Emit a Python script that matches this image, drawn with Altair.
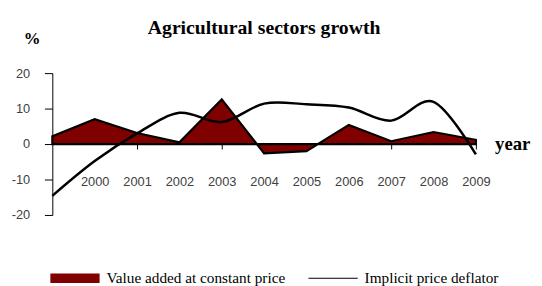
import altair as alt
import pandas as pd

years = [1999, 2000, 2001, 2002, 2003, 2004, 2005, 2006, 2007, 2008, 2009]
value_added = [2.2, 7.0, 3.1, 0.5, 12.6, -2.6, -2.0, 5.4, 0.8, 3.4, 1.2]
deflator = [-14.6, -4.8, 3.0, 8.8, 6.2, 11.4, 11.2, 10.3, 6.6, 11.9, -2.9]
y_ticks = [-20, -10, 0, 10, 20]
series = ["Value added at constant price", "Implicit price deflator"]

df = pd.DataFrame({"year": years, "va": value_added, "defl": deflator})
leg = pd.DataFrame({"series": series})

serif = "Liberation Serif"
sans = "Liberation Sans"
label_gray = "#404040"

x_scale = alt.Scale(domain=[1999, 2009], nice=False, zero=False)
y_scale = alt.Scale(domain=[-20, 20], nice=False)

x_axis = alt.Axis(
    values=years,
    format="d",
    labelExpr="datum.value < 2000 ? '' : datum.label",
    labelOverlap=False,
    labelFlush=False,
    domain=False,
    grid=False,
    offset=-72,
    tickSize=5,
    tickColor="black",
    tickWidth=1,
    tickOpacity=alt.expr("datum.value % 2 == 1 && datum.value > 1999 ? 1 : 0"),
    labelPadding=27,
    labelFont=sans,
    labelFontSize=13,
    labelColor=label_gray,
    title="year",
    titleFont=serif,
    titleFontSize=19,
    titleFontWeight="bold",
    titleColor="black",
    titleAngle=0,
    titleAlign="left",
    titleBaseline="middle",
    titleX=449,
    titleY=0,
)

y_axis = alt.Axis(
    values=y_ticks,
    labelExpr="'' + datum.value",
    labelOverlap=False,
    labelFlush=False,
    grid=False,
    domainColor="black",
    domainWidth=1,
    tickColor="black",
    tickSize=8,
    labelFont=sans,
    labelFontSize=13,
    labelColor=label_gray,
    labelPadding=15,
    title="%",
    titleFont=serif,
    titleFontSize=17,
    titleFontWeight="bold",
    titleColor="black",
    titleAngle=0,
    titleAlign="center",
    titleBaseline="middle",
    titleX=-21,
    titleY=-35,
)

area = alt.Chart(df).mark_area(
    color="#800000", stroke="black", strokeWidth=2.2, strokeJoin="miter"
).encode(
    x=alt.X("year:Q", scale=x_scale, axis=x_axis),
    y=alt.Y("va:Q", scale=y_scale, axis=y_axis),
)

line = alt.Chart(df).mark_line(
    color="black", strokeWidth=2.5, interpolate="cardinal"
).encode(
    x=alt.X("year:Q", scale=x_scale, axis=x_axis),
    y=alt.Y("defl:Q", scale=y_scale, axis=y_axis),
)

legend_props = dict(
    title=None,
    orient="none",
    direction="horizontal",
    legendX=-3,
    legendY=182,
    symbolSize=2500,
    symbolOpacity=1,
    symbolStrokeColor="black",
    symbolStrokeWidth=1.5,
    labelFont=serif,
    labelFontSize=15.5,
    labelColor="black",
    labelOffset=6,
    labelLimit=300,
    columnPadding=20,
)

legend_layer = alt.Chart(leg).mark_point(opacity=0, filled=True).encode(
    x=alt.value(0),
    y=alt.value(0),
    shape=alt.Shape(
        "series:N",
        scale=alt.Scale(
            domain=series,
            range=["M-1,-0.19H1V0.19H-1Z", "M-1,-0.02H1V0.02H-1Z"],
        ),
        legend=alt.Legend(**legend_props),
    ),
    fill=alt.Fill(
        "series:N",
        scale=alt.Scale(domain=series, range=["#800000", "black"]),
        legend=alt.Legend(**legend_props),
    ),
)

chart = (
    alt.layer(area, line, legend_layer)
    .properties(
        width=430,
        height=144,
        autosize=alt.AutoSizeParams(type="none"),
        padding={"left": 45, "top": 64, "right": 59, "bottom": 70},
        title=alt.TitleParams(
            "Agricultural sectors growth",
            font=serif,
            fontSize=20,
            fontWeight="bold",
            color="black",
            anchor="middle",
            offset=4,
            dy=12,
        ),
    )
    .configure(background="white")
    .configure_view(strokeWidth=0, stroke="transparent")
)

chart.save("out.html", embed_options={"renderer": "svg", "actions": False})
